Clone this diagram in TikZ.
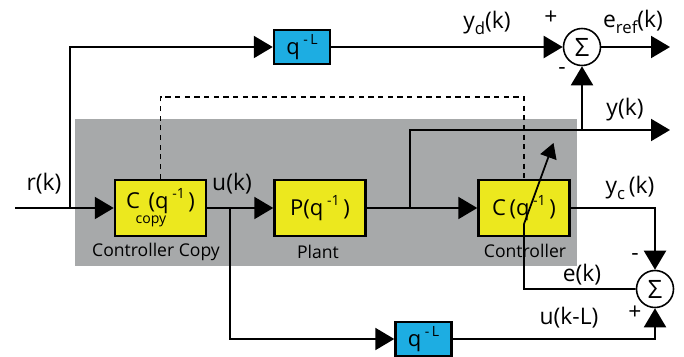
\documentclass[tikz,border=0pt]{standalone}
\usepackage{fontspec}
\setmainfont{Open Sans}
\usetikzlibrary{arrows.meta}

\definecolor{panelgray}{RGB}{167,169,170}
\definecolor{boxyellow}{RGB}{236,232,30}
\definecolor{delayblue}{RGB}{29,173,226}

% raised and lowered small text
\newcommand{\hi}[1]{\raisebox{0.8ex}{\footnotesize #1}}
\newcommand{\lo}[1]{\raisebox{-0.45ex}{\fontsize{9.5}{10}\selectfont #1}}

\begin{document}
\begin{tikzpicture}[line width=1.2pt,
			>={Triangle[length=0.38cm,width=0.44cm]},
			block/.style={draw, line width=1.4pt, fill=boxyellow, minimum width=1.82cm, minimum height=1.12cm, inner sep=0pt, font=\fontsize{12.5}{14}\selectfont},
			delay/.style={draw, line width=1.4pt, fill=delayblue, minimum width=1.12cm, minimum height=0.68cm, inner sep=0pt, font=\fontsize{12.5}{14}\selectfont},
			sum/.style={draw, circle, line width=0.9pt, fill=white, minimum size=0.74cm, inner sep=0pt, font=\Large},
			lbl/.style={inner sep=0pt, font=\fontsize{13}{15}\selectfont},
			caption/.style={inner sep=0pt, font=\normalsize}]

			\useasboundingbox (0,0) rectangle (13.68,7.12);

			% gray panel behind the loop
			\fill [panelgray] (1.50,1.80) rectangle (11.54,4.74);

			% blocks
			\node [block] (ccopy) at (3.21,2.96) {C\makebox[0pt][l]{\hspace{-2.4pt}\raisebox{-9pt}{\footnotesize copy}}\hspace{5pt}(q\,\hi{-1}\,)};
			\node [block] (plant) at (6.40,2.96) {P(q\,\hi{-1}\,)};
			\node [block] (ctrl) at (10.48,2.96) {C\,(q\,\hi{-1}\,)};
			\node [delay] (dtop) at (6.04,6.18) {q\,\hi{-\,L}};
			\node [delay] (dbot) at (8.47,0.34) {q\,\hi{-\,L}};
			\node [sum] (sumtop) at (11.64,6.18) {Σ};
			\node [sum] (sumbot) at (13.10,1.34) {Σ};

			% helper points
			\coordinate (rin) at (0.30,2.96);
			\coordinate (rsplit) at (1.40,2.96);
			\coordinate (usplit) at (4.60,2.96);
			\coordinate (ysplit) at (8.20,2.96);
			\coordinate (ytap) at (11.64,4.52);
			\coordinate (yout) at (13.40,4.52);
			\coordinate (erefout) at (13.40,6.18);
			\coordinate (ekink) at (10.48,2.64);
			\coordinate (adapt) at (11.07,4.26);

			% signal lines
			\draw [->] (rin) -- (ccopy);
			\draw [->] (rsplit) |- (dtop);
			\draw [->] (dtop) -- (sumtop);
			\draw [->] (sumtop) -- (erefout);
			\draw [->] (ccopy) -- (plant);
			\draw [->] (plant) -- (ctrl);
			\draw [->] (ysplit) |- (yout);
			\draw [->] (ytap) -- (sumtop);
			\draw [->] (ctrl) -| (sumbot);
			\draw [->] (usplit) |- (dbot);
			\draw [->] (dbot) -| (sumbot);

			% copy link and adaptation
			\draw [line width=1pt, dash pattern=on 3pt off 2.5pt] (ccopy.north) -- ++(0,1.64) -| (ctrl.north);
			\draw [line width=1pt, -{Triangle[length=0.3cm,width=0.34cm]}] (sumbot) -| (ekink) -- (adapt);

			% labels
			\node [lbl] (rlab) at (0.88,3.44) {r(k)};
			\node [lbl] (ulab) at (4.64,3.44) {u(k)};
			\node [lbl] (ylab) at (12.50,4.92) {y(k)};
			\node [lbl] (ydlab) at (9.74,6.66) {y\lo{d}(k)};
			\node [lbl] (eref) at (12.66,6.68) {e\lo{ref}(k)};
			\node [lbl] (yclab) at (12.60,3.36) {y\lo{c}\,(k)};
			\node [lbl] (elab) at (11.64,1.62) {e(k)};
			\node [lbl] (uLlab) at (11.38,0.76) {u(k-L)};
			\node [lbl] (ptop) at (11.02,6.76) {+};
			\node [lbl] (mtop) at (11.24,5.70) {-};
			\node [lbl] (mbot) at (12.70,1.98) {-};
			\node [lbl] (pbot) at (12.70,0.86) {+};
			\node [caption] (cclab) at (3.12,2.08) {Controller Copy};
			\node [caption] (plab) at (6.36,2.08) {Plant};
			\node [caption] (clab) at (10.50,2.10) {Controller};
		\end{tikzpicture}
\end{document}
